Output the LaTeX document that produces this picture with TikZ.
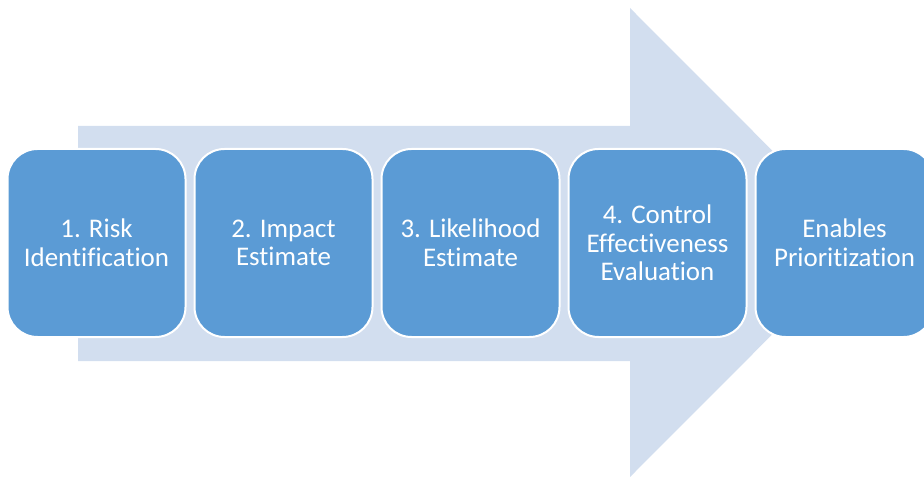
\documentclass[tikz,border=0pt]{standalone}
\usepackage{fontspec}
\setmainfont[Ligatures=NoCommon]{Carlito}
\usetikzlibrary{positioning,backgrounds}
\definecolor{stageblue}{HTML}{5B9BD5}
\definecolor{arrowblue}{HTML}{D2DEEF}
\tikzstyle{stage}=[rectangle,rounded corners=22.5pt,draw=white,line width=1.5pt,fill=stageblue,text=white,minimum width=133.5pt,minimum height=141pt,align=center,font=\fontsize{20.2}{21.5}\selectfont]

\begin{document}
\begin{tikzpicture}[x=0.75pt,y=-0.75pt,node distance=5.25pt]
    \useasboundingbox (0,0) rectangle (924,477);
    % big arrow behind the steps
    \fill[arrowblue] (78,126) -- (630,126) -- (630,8) -- (864,242.5)
        -- (630,477) -- (630,361) -- (78,361) -- cycle;

    % the steps
    \node [stage] (s1) at (96.5,243)  {1. Risk\\Identification};
    \node [stage] (s2) [right=of s1]  {2. Impact\\Estimate};
    \node [stage] (s3) [right=of s2]  {3. Likelihood\\Estimate};
    \node [stage] (s4) [right=of s3]  {4. Control\\Effectiveness\\Evaluation};
    \node [stage] (s5) [right=of s4]  {Enables\\Prioritization};
\end{tikzpicture}
\end{document}
